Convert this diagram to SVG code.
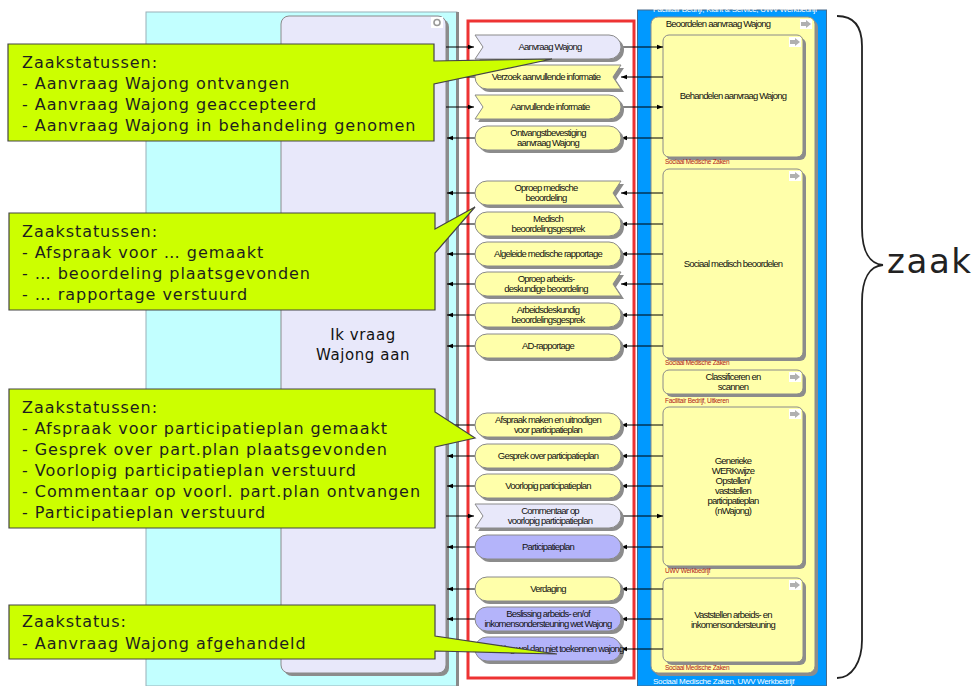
<svg xmlns="http://www.w3.org/2000/svg" width="976" height="686" viewBox="0 0 976 686">
<style>
.msgt{font-family:"Liberation Sans",Arial,sans-serif;font-size:9.5px;letter-spacing:-0.8px;fill:#111;text-anchor:middle}
.proct{font-family:"Liberation Sans",Arial,sans-serif;font-size:9.5px;letter-spacing:-0.8px;fill:#111;text-anchor:middle}
.org{font-family:"Liberation Sans",Arial,sans-serif;font-size:6.5px;letter-spacing:-0.3px;fill:#b01818}
.lane{font-family:"Liberation Sans",Arial,sans-serif;font-size:8px;letter-spacing:-0.3px;fill:#fff}
.call{fill:#ccff00;stroke:#444;stroke-width:1.2}
.callt{font-family:"DejaVu Sans",Verdana,sans-serif;font-size:16px;letter-spacing:0.95px;fill:#1e1e1e}
.shadow{fill:#8c8c8c}
.yel{fill:#ffffaa;stroke:#8a8a8a;stroke-width:1}
.lav{fill:#e8e8fa;stroke:#8a8a8a;stroke-width:1}
.blu{fill:#b4b4fa;stroke:#8a8a8a;stroke-width:1}
.conn line{stroke:#000;stroke-width:1;marker-end:url(#ah)}
</style>
<defs>
<marker id="ah" viewBox="0 0 8 8" refX="8" refY="4" markerWidth="6" markerHeight="6" orient="auto" markerUnits="userSpaceOnUse"><path d="M0,1 L8,4 L0,7 Z" fill="#000"/></marker>
<rect id="mPlain" width="146" height="24" rx="12"/>
<path id="mIn" d="M0,0 H134 A12,12 0 0 1 134,24 H0 L8,12 Z"/>
<path id="mOut" d="M12,0 H146 L138,12 L146,24 H12 A12,12 0 0 1 12,0 Z"/>
<g id="ico"><rect x="-6" y="-5" width="12" height="10" fill="#fff"/><path d="M-5,-2 H0 V-4 L5,0 L0,4 V2 H-5 Z" fill="#b0b0b0"/></g>
</defs>

<!-- swimlanes -->
<g id="lane-client">
<rect x="146" y="12" width="311" height="674" fill="#c2ffff" stroke="#9ab0b8" stroke-width="1"/>
<rect x="456" y="12" width="3" height="674" fill="#8a8a8a"/>
</g>
<g id="lane-org">
<rect x="637.5" y="10" width="189" height="676" fill="#0099ff" stroke="#4a6a8a" stroke-width="1"/>
<text class="lane" x="653" y="12">Facilitair Bedrijf, Klant &amp; Service, UWV Werkbedrijf</text>
<text class="lane" x="653" y="684">Sociaal Medische Zaken, UWV Werkbedrijf</text>
</g>

<!-- client node -->
<g id="n-client">
<rect x="284" y="19" width="165" height="657" rx="8" class="shadow"/>
<rect x="281" y="16" width="165" height="657" rx="8" class="lav"/>
<rect x="431" y="17" width="12" height="11" fill="#fff"/>
<circle cx="437" cy="22.5" r="3" fill="none" stroke="#999" stroke-width="1.6"/>
<text x="363" y="340" font-family="DejaVu Sans, Verdana, sans-serif" font-size="15" letter-spacing="0.6" text-anchor="middle" fill="#111">Ik vraag</text>
<text x="363" y="360" font-family="DejaVu Sans, Verdana, sans-serif" font-size="15" letter-spacing="0.6" text-anchor="middle" fill="#111">Wajong aan</text>
</g>

<!-- red frame -->
<rect id="frame" x="468" y="21" width="166" height="657" fill="#fff" stroke="#ee3333" stroke-width="3"/>

<!-- process nodes -->
<g id="p-beoordelen">
<rect x="654" y="20" width="164" height="656" rx="7" class="shadow"/>
<rect x="651" y="17" width="164" height="656" rx="7" class="yel"/>
<text class="proct" x="718" y="27">Beoordelen aanvraag Wajong</text>
<use href="#ico" x="806" y="24"/>
</g>
<g id="p-behandelen">
<rect x="666" y="38" width="140" height="122" rx="6" class="shadow"/>
<rect x="663" y="35" width="140" height="122" rx="6" class="yel"/>
<text class="proct" x="733" y="99">Behandelen aanvraag Wajong</text>
<use href="#ico" x="795" y="42"/>
<text class="org" x="665" y="164">Sociaal Medische Zaken</text>
</g>
<g id="p-smb">
<rect x="666" y="172" width="140" height="189" rx="6" class="shadow"/>
<rect x="663" y="169" width="140" height="189" rx="6" class="yel"/>
<text class="proct" x="733" y="267">Sociaal medisch beoordelen</text>
<use href="#ico" x="795" y="176"/>
<text class="org" x="665" y="365">Sociaal Medische Zaken</text>
</g>
<g id="p-class">
<rect x="666" y="373" width="140" height="24" rx="6" class="shadow"/>
<rect x="663" y="370" width="140" height="24" rx="6" class="yel"/>
<text class="proct" x="733" y="380">Classificeren en</text>
<text class="proct" x="733" y="390">scannen</text>
<use href="#ico" x="795" y="377"/>
<text class="org" x="665" y="403">Facilitair Bedrijf, Uitkeren</text>
</g>
<g id="p-generiek">
<rect x="666" y="410" width="140" height="159" rx="6" class="shadow"/>
<rect x="663" y="407" width="140" height="159" rx="6" class="yel"/>
<text class="proct" x="733" y="464">Generieke</text>
<text class="proct" x="733" y="474">WERKwijze</text>
<text class="proct" x="733" y="484">Opstellen/</text>
<text class="proct" x="733" y="494">vaststellen</text>
<text class="proct" x="733" y="504">participatieplan</text>
<text class="proct" x="733" y="514">(nWajong)</text>
<use href="#ico" x="795" y="414"/>
<text class="org" x="665" y="573">UWV Werkbedrijf</text>
</g>
<g id="p-vaststellen">
<rect x="666" y="581" width="140" height="84" rx="6" class="shadow"/>
<rect x="663" y="578" width="140" height="84" rx="6" class="yel"/>
<text class="proct" x="733" y="618">Vaststellen arbeids- en</text>
<text class="proct" x="733" y="628">inkomensondersteuning</text>
<use href="#ico" x="795" y="585"/>
<text class="org" x="665" y="670">Sociaal Medische Zaken</text>
</g>

<!-- connectors -->
<g id="connectors" class="conn">
<line x1="446" y1="47" x2="474" y2="47"/><line x1="621" y1="47" x2="663" y2="47"/>
<line x1="663" y1="77" x2="621" y2="77"/><line x1="475" y1="77" x2="447" y2="77"/>
<line x1="446" y1="107" x2="474" y2="107"/><line x1="621" y1="107" x2="663" y2="107"/>
<line x1="663" y1="138" x2="621" y2="138"/><line x1="475" y1="138" x2="447" y2="138"/>
<line x1="663" y1="193" x2="621" y2="193"/><line x1="475" y1="193" x2="447" y2="193"/>
<line x1="663" y1="224" x2="621" y2="224"/><line x1="475" y1="224" x2="447" y2="224"/>
<line x1="663" y1="254" x2="621" y2="254"/><line x1="475" y1="254" x2="447" y2="254"/>
<line x1="663" y1="284" x2="621" y2="284"/><line x1="475" y1="284" x2="447" y2="284"/>
<line x1="663" y1="315" x2="621" y2="315"/><line x1="475" y1="315" x2="447" y2="315"/>
<line x1="663" y1="346" x2="621" y2="346"/><line x1="475" y1="346" x2="447" y2="346"/>
<line x1="663" y1="425" x2="621" y2="425"/><line x1="475" y1="425" x2="447" y2="425"/>
<line x1="663" y1="456" x2="621" y2="456"/><line x1="475" y1="456" x2="447" y2="456"/>
<line x1="663" y1="486" x2="621" y2="486"/><line x1="475" y1="486" x2="447" y2="486"/>
<line x1="446" y1="516" x2="474" y2="516"/><line x1="621" y1="516" x2="663" y2="516"/>
<line x1="663" y1="547" x2="621" y2="547"/><line x1="475" y1="547" x2="447" y2="547"/>
<line x1="663" y1="589" x2="621" y2="589"/><line x1="475" y1="589" x2="447" y2="589"/>
<line x1="663" y1="619" x2="621" y2="619"/><line x1="475" y1="619" x2="447" y2="619"/>
<line x1="663" y1="649" x2="621" y2="649"/><line x1="475" y1="649" x2="447" y2="649"/>
</g>

<!-- message nodes -->
<g id="m1" transform="translate(475,35)"><use href="#mIn" x="3" y="3" class="shadow"/><use href="#mIn" class="lav"/><text class="msgt" x="75" y="15">Aanvraag Wajong</text></g>
<g id="m2" transform="translate(475,65)"><use href="#mOut" x="3" y="3" class="shadow"/><use href="#mOut" class="yel"/><text class="msgt" x="71" y="15">Verzoek aanvullende informatie</text></g>
<g id="m3" transform="translate(475,95)"><use href="#mIn" x="3" y="3" class="shadow"/><use href="#mIn" class="yel"/><text class="msgt" x="75" y="15">Aanvullende informatie</text></g>
<g id="m4" transform="translate(475,126)"><use href="#mPlain" x="3" y="3" class="shadow"/><use href="#mPlain" class="yel"/><text class="msgt" x="73" y="10">Ontvangstbevestiging</text><text class="msgt" x="73" y="20">aanvraag Wajong</text></g>
<g id="m5" transform="translate(475,181)"><use href="#mOut" x="3" y="3" class="shadow"/><use href="#mOut" class="yel"/><text class="msgt" x="71" y="10">Oproep medische</text><text class="msgt" x="71" y="20">beoordeling</text></g>
<g id="m6" transform="translate(475,212)"><use href="#mPlain" x="3" y="3" class="shadow"/><use href="#mPlain" class="yel"/><text class="msgt" x="73" y="10">Medisch</text><text class="msgt" x="73" y="20">beoordelingsgesprek</text></g>
<g id="m7" transform="translate(475,242)"><use href="#mPlain" x="3" y="3" class="shadow"/><use href="#mPlain" class="yel"/><text class="msgt" x="73" y="15">Algeleide medische rapportage</text></g>
<g id="m8" transform="translate(475,272)"><use href="#mOut" x="3" y="3" class="shadow"/><use href="#mOut" class="yel"/><text class="msgt" x="71" y="10">Oproep arbeids-</text><text class="msgt" x="71" y="20">deskundige beoordeling</text></g>
<g id="m9" transform="translate(475,303)"><use href="#mPlain" x="3" y="3" class="shadow"/><use href="#mPlain" class="yel"/><text class="msgt" x="73" y="10">Arbeidsdeskundig</text><text class="msgt" x="73" y="20">beoordelingsgesprek</text></g>
<g id="m10" transform="translate(475,334)"><use href="#mPlain" x="3" y="3" class="shadow"/><use href="#mPlain" class="yel"/><text class="msgt" x="73" y="15">AD-rapportage</text></g>
<g id="m11" transform="translate(475,413)"><use href="#mPlain" x="3" y="3" class="shadow"/><use href="#mPlain" class="yel"/><text class="msgt" x="73" y="10">Afspraak maken en uitnodigen</text><text class="msgt" x="73" y="20">voor participatieplan</text></g>
<g id="m12" transform="translate(475,444)"><use href="#mPlain" x="3" y="3" class="shadow"/><use href="#mPlain" class="yel"/><text class="msgt" x="73" y="15">Gesprek over participatieplan</text></g>
<g id="m13" transform="translate(475,474)"><use href="#mPlain" x="3" y="3" class="shadow"/><use href="#mPlain" class="yel"/><text class="msgt" x="73" y="15">Voorlopig participatieplan</text></g>
<g id="m14" transform="translate(475,504)"><use href="#mIn" x="3" y="3" class="shadow"/><use href="#mIn" class="lav"/><text class="msgt" x="75" y="10">Commentaar op</text><text class="msgt" x="75" y="20">voorlopig participatieplan</text></g>
<g id="m15" transform="translate(475,535)"><use href="#mPlain" x="3" y="3" class="shadow"/><use href="#mPlain" class="blu"/><text class="msgt" x="73" y="15">Participatieplan</text></g>
<g id="m16" transform="translate(475,577)"><use href="#mPlain" x="3" y="3" class="shadow"/><use href="#mPlain" class="yel"/><text class="msgt" x="73" y="15">Verdaging</text></g>
<g id="m17" transform="translate(475,607)"><use href="#mPlain" x="3" y="3" class="shadow"/><use href="#mPlain" class="blu"/><text class="msgt" x="73" y="10">Beslissing arbeids- en/of</text><text class="msgt" x="73" y="20">inkomensondersteuning wet Wajong</text></g>
<g id="m18" transform="translate(475,637)"><use href="#mPlain" x="3" y="3" class="shadow"/><use href="#mPlain" class="blu"/><text class="msgt" x="73" y="15">Beschikking wel dan niet toekennen wajong</text></g>

<!-- callouts -->
<g id="c1">
<path class="call" d="M8,44 H434 V61 L552,59 L434,84 V141 H8 Z"/>
<text class="callt" x="22" y="68">Zaakstatussen:</text>
<text class="callt" x="22" y="89">- Aanvraag Wajong ontvangen</text>
<text class="callt" x="22" y="110">- Aanvraag Wajong geaccepteerd</text>
<text class="callt" x="22" y="131">- Aanvraag Wajong in behandeling genomen</text>
</g>
<g id="c2">
<path class="call" d="M9,213 H435 V229 L475,207 L435,253 V310 H9 Z"/>
<text class="callt" x="22" y="237">Zaakstatussen:</text>
<text class="callt" x="22" y="258">- Afspraak voor … gemaakt</text>
<text class="callt" x="22" y="279">- … beoordeling plaatsgevonden</text>
<text class="callt" x="22" y="300">- … rapportage verstuurd</text>
</g>
<g id="c3">
<path class="call" d="M9,389 H435 V412 L475,438 L435,447 V528 H9 Z"/>
<text class="callt" x="22" y="413">Zaakstatussen:</text>
<text class="callt" x="22" y="434">- Afspraak voor participatieplan gemaakt</text>
<text class="callt" x="22" y="455">- Gesprek over part.plan plaatsgevonden</text>
<text class="callt" x="22" y="476">- Voorlopig participatieplan verstuurd</text>
<text class="callt" x="22" y="497">- Commentaar op voorl. part.plan ontvangen</text>
<text class="callt" x="22" y="518">- Participatieplan verstuurd</text>
</g>
<g id="c4">
<path class="call" d="M9,605 H435 V636 L557,654 L435,651 V659 H9 Z"/>
<text class="callt" x="22" y="627">Zaakstatus:</text>
<text class="callt" x="22" y="649">- Aanvraag Wajong afgehandeld</text>
</g>

<!-- brace -->
<g id="brace">
<path d="M837,16 C853,16 862,26 862,46 V228 C862,252 870,264 883,265 C870,266 862,278 862,302 V640 C862,662 852,678 837,678" fill="none" stroke="#222" stroke-width="1.8"/>
<text x="887" y="273" font-family="DejaVu Sans, Verdana, sans-serif" font-size="34" letter-spacing="1.6" fill="#222">zaak</text>
</g>
</svg>
